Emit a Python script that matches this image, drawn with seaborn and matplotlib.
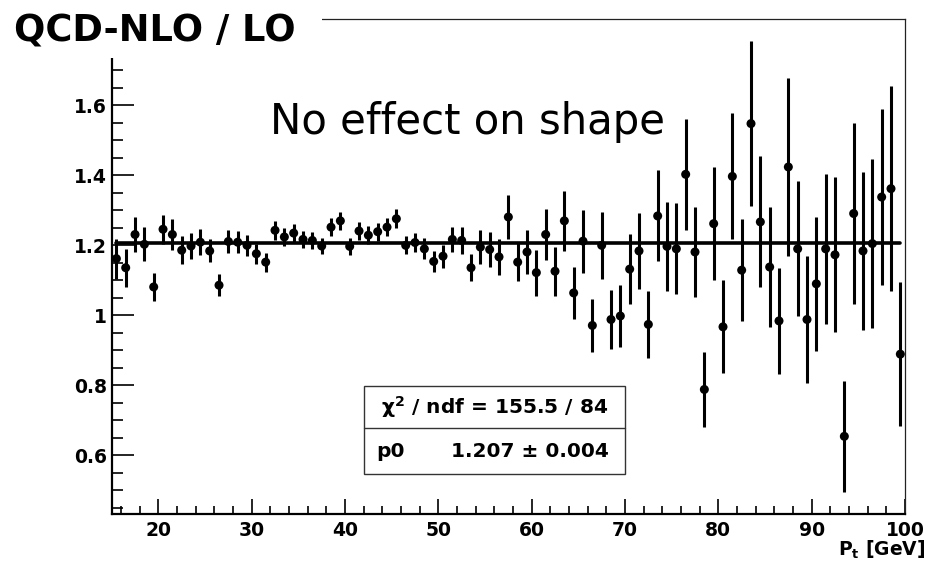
import matplotlib
matplotlib.use("Agg")
import matplotlib.pyplot as plt
import seaborn as sns
import numpy as np
import pandas as pd
from matplotlib.patches import Rectangle
from matplotlib.lines import Line2D
from matplotlib.ticker import MultipleLocator, FixedLocator, FuncFormatter

# ---------------- data ----------------
bin_low, bin_high = 15, 100
pt_centers = np.arange(15.5, 100.0, 1.0)
ratio = [1.162, 1.136, 1.231, 1.203, 1.081, 1.246, 1.231, 1.186, 1.198, 1.209,
         1.184, 1.086, 1.211, 1.209, 1.200, 1.176, 1.152, 1.243, 1.224, 1.235,
         1.217, 1.214, 1.198, 1.252, 1.270, 1.197, 1.241, 1.229, 1.239, 1.252,
         1.276, 1.200, 1.208, 1.190, 1.154, 1.169, 1.217, 1.214, 1.136, 1.195,
         1.188, 1.167, 1.281, 1.152, 1.181, 1.122, 1.231, 1.126, 1.270, 1.064,
         1.212, 0.971, 1.200, 0.988, 0.998, 1.132, 1.184, 0.974, 1.284, 1.197,
         1.190, 1.403, 1.181, 0.788, 1.262, 0.967, 1.397, 1.129, 1.548, 1.267,
         1.138, 0.984, 1.424, 1.190, 0.988, 1.090, 1.190, 1.173, 0.654, 1.291,
         1.184, 1.205, 1.338, 1.362, 0.889]
ratio_err = [0.057, 0.054, 0.050, 0.049, 0.039, 0.042, 0.043, 0.040, 0.038, 0.037,
             0.033, 0.031, 0.034, 0.031, 0.030, 0.029, 0.027, 0.027, 0.026, 0.025,
             0.025, 0.024, 0.024, 0.025, 0.025, 0.024, 0.025, 0.025, 0.026, 0.026,
             0.027, 0.026, 0.028, 0.030, 0.031, 0.033, 0.036, 0.038, 0.039, 0.048,
             0.050, 0.052, 0.062, 0.055, 0.063, 0.066, 0.074, 0.070, 0.085, 0.075,
             0.090, 0.076, 0.096, 0.085, 0.088, 0.100, 0.108, 0.096, 0.130, 0.127,
             0.130, 0.158, 0.128, 0.106, 0.162, 0.133, 0.180, 0.146, 0.235, 0.187,
             0.171, 0.152, 0.255, 0.193, 0.181, 0.191, 0.215, 0.221, 0.158, 0.258,
             0.226, 0.242, 0.252, 0.293, 0.206]
fit_p0 = 1.207
fit_p0_err = 0.004
fit_range = [15.5, 99.5]
chi2, ndf = 155.5, 84

y_major_ticks = [0.6, 0.8, 1.0, 1.2, 1.4, 1.6]
title_text = "QCD-NLO / LO"
note_text = "No effect on shape"
x_label = "P$_\\mathbf{t}$ [GeV]"

df = pd.DataFrame({"pt": pt_centers, "ratio": ratio, "err": ratio_err})
df["lo"] = df["ratio"] - df["err"]
df["hi"] = df["ratio"] + df["err"]
fit_df = pd.DataFrame({"pt": fit_range, "ratio": [fit_p0, fit_p0]})

# ---------------- style ----------------
sns.set_theme(style="ticks")
plt.rcParams["font.family"] = ["DejaVu Sans"]
plt.rcParams["mathtext.fontset"] = "dejavusans"
plt.rcParams["mathtext.default"] = "regular"

W, H = 927, 566
fig = plt.figure(figsize=(W / 100, H / 100), dpi=100)
fig.patch.set_facecolor("white")

ax_l, ax_r, ax_t, ax_b = 111.7, 905.0, 19.0, 514.0
ax = fig.add_axes([ax_l / W, 1 - ax_b / H, (ax_r - ax_l) / W, (ax_b - ax_t) / H])
ax.set_facecolor("white")

# error bars
ax.vlines(df["pt"], df["lo"], df["hi"], color="black", lw=2.2, zorder=2)
# fit line
sns.lineplot(data=fit_df, x="pt", y="ratio", ax=ax, color="black", lw=2.6,
             zorder=2.5, legend=False)
# markers
sns.scatterplot(data=df, x="pt", y="ratio", ax=ax, color="black", s=42,
                edgecolor="none", linewidth=0, zorder=3, legend=False)

ax.set_xlim(bin_low, bin_high)
ax.set_ylim(0.432, 1.847)
ax.set_xlabel("")
ax.set_ylabel("")

ax.xaxis.set_major_locator(MultipleLocator(10))
ax.xaxis.set_minor_locator(MultipleLocator(2))
ax.yaxis.set_major_locator(FixedLocator(y_major_ticks))
ax.yaxis.set_minor_locator(MultipleLocator(0.05))
ax.yaxis.set_major_formatter(FuncFormatter(lambda v, p: f"{v:g}"))
ax.xaxis.set_major_formatter(FuncFormatter(lambda v, p: f"{v:g}"))

ax.tick_params(axis="both", which="both", direction="in", color="black",
               top=False, right=False)
ax.tick_params(axis="y", which="major", length=15.6, width=1.2, pad=3.5,
               labelsize=13.5)
ax.tick_params(axis="y", which="minor", length=8, width=1.2)
ax.tick_params(axis="x", which="major", length=10.8, width=1.2, pad=5.0,
               labelsize=13.5)
ax.tick_params(axis="x", which="minor", length=5.5, width=1.2)
for lab in ax.get_xticklabels() + ax.get_yticklabels():
    lab.set_fontweight("bold")
    lab.set_color("black")

for side in ("left", "bottom"):
    ax.spines[side].set_linewidth(1.6)
    ax.spines[side].set_color("black")
for side in ("top", "right"):
    ax.spines[side].set_linewidth(0.9)
    ax.spines[side].set_color("#222222")

# x label
fig.text(925 / W, 1 - 556 / H, x_label, ha="right", va="baseline",
         fontsize=13.5, fontweight="bold", color="black")

# title box
fig.add_artist(Rectangle((0, 1 - 58 / H), 322 / W, 58 / H, transform=fig.transFigure,
                         facecolor="white", edgecolor="none", zorder=5))
fig.text(14 / W, 1 - 41.7 / H, title_text, ha="left", va="baseline",
         fontsize=26.5, fontweight="bold", color="black", zorder=6)

# annotation
fig.text(270.5 / W, 1 - 134.3 / H, note_text, ha="left", va="baseline",
         fontsize=30.2, color="black", zorder=6)

# stat box
bx0, bx1, by0, by1, bmid = 364, 625, 385.7, 474.3, 428.3
fig.add_artist(Rectangle((bx0 / W, 1 - by1 / H), (bx1 - bx0) / W, (by1 - by0) / H,
                         transform=fig.transFigure, facecolor="white",
                         edgecolor="#333333", lw=1.0, zorder=5))
fig.add_artist(Line2D([bx0 / W, bx1 / W], [1 - bmid / H, 1 - bmid / H],
                      transform=fig.transFigure, color="#333333", lw=1.0, zorder=6))
fig.text((bx0 + bx1) / 2 / W, 1 - 407 / H, f"χ$^{{2}}$ / ndf = {chi2:g} / {ndf}",
         ha="center", va="center", fontsize=14.5, fontweight="bold",
         color="black", zorder=7)
fig.text(376.7 / W, 1 - 451.3 / H, "p0", ha="left", va="center",
         fontsize=14.5, fontweight="bold", color="black", zorder=7)
fig.text(609 / W, 1 - 451.3 / H, f"{fit_p0:.3f} ± {fit_p0_err:.3f}",
         ha="right", va="center", fontsize=14.5, fontweight="bold",
         color="black", zorder=7)

fig.savefig("out.png", dpi=100, facecolor="white")
